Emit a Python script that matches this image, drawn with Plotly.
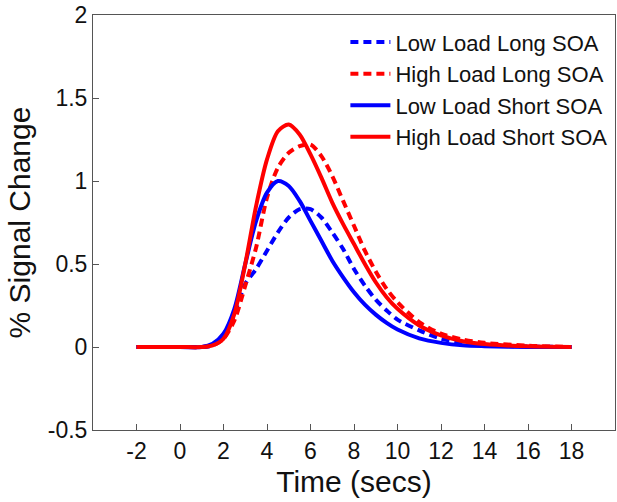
import plotly.graph_objects as go

time_s = [-2, 0, 1, 1.5, 2, 2.5, 3, 3.5, 4, 4.5, 5, 5.5, 6, 6.5, 7, 7.5, 8, 8.5, 9, 9.5, 10, 11, 12, 13, 14, 16, 18]

low_long = [0, 0, 0, 0.01, 0.06, 0.2, 0.38, 0.47, 0.58, 0.69, 0.78, 0.83, 0.83, 0.78, 0.69, 0.59, 0.47, 0.37, 0.285, 0.22, 0.165, 0.1, 0.05, 0.025, 0.012, 0.003, 0]
high_long = [0, 0, 0, 0.01, 0.05, 0.16, 0.37, 0.6, 0.9, 1.08, 1.17, 1.21, 1.22, 1.15, 1.03, 0.88, 0.73, 0.58, 0.455, 0.35, 0.27, 0.15, 0.08, 0.045, 0.025, 0.008, 0]
low_short = [0, 0, 0, 0.02, 0.08, 0.23, 0.5, 0.76, 0.93, 1.0, 0.97, 0.88, 0.76, 0.64, 0.52, 0.42, 0.33, 0.255, 0.195, 0.145, 0.105, 0.052, 0.025, 0.01, 0.005, 0, 0]
high_short = [0, 0, 0, 0.01, 0.05, 0.2, 0.5, 0.85, 1.13, 1.3, 1.34, 1.28, 1.16, 1.02, 0.87, 0.74, 0.62, 0.5, 0.39, 0.3, 0.23, 0.13, 0.07, 0.035, 0.018, 0.004, 0]

series_names = ["Low Load Long SOA", "High Load Long SOA", "Low Load Short SOA", "High Load Short SOA"]
series_vals = [low_long, high_long, low_short, high_short]
series_colors = ["#0000ff", "#ff0000", "#0000ff", "#ff0000"]
series_dash = ["8px,5px", "8px,5px", "solid", "solid"]

x_ticks = [-2, 0, 2, 4, 6, 8, 10, 12, 14, 16, 18]
y_ticks = [-0.5, 0, 0.5, 1, 1.5, 2]
y_tick_text = ["-0.5", "0", "0.5", "1", "1.5", "2"]
x_tick_text = ["-2", "0", "2", "4", "6", "8", "10", "12", "14", "16", "18"]

FONT = "Liberation Sans, Arial, sans-serif"

fig = go.Figure()
for name, vals, col, dash in zip(series_names, series_vals, series_colors, series_dash):
    fig.add_trace(go.Scatter(x=time_s, y=vals, mode="lines", name=name,
                             line=dict(color=col, width=4, dash=dash, shape="spline", smoothing=0.8)))

axis_common = dict(showline=True, linecolor="#555555", linewidth=1, mirror=True,
                   ticks="inside", ticklen=6, tickcolor="#555555", showgrid=False, zeroline=False,
                   tickfont=dict(family=FONT, size=23, color="#111111"))

fig.update_xaxes(range=[-4, 20], tickvals=x_ticks, ticktext=x_tick_text,
                 title=dict(text="Time (secs)", font=dict(family=FONT, size=30, color="#111111"), standoff=8),
                 **axis_common)
fig.update_yaxes(range=[-0.5, 2], tickvals=y_ticks, ticktext=y_tick_text,
                 title=dict(text="% Signal Change", font=dict(family=FONT, size=30, color="#111111"), standoff=8),
                 **axis_common)

fig.update_layout(
    width=617, height=502,
    margin=dict(l=93, r=2, t=15, b=72, autoexpand=False),
    plot_bgcolor="white", paper_bgcolor="white",
    showlegend=True,
    legend=dict(x=0.995, y=0.985, xanchor="right", yanchor="top", bgcolor="rgba(0,0,0,0)",
                font=dict(family=FONT, size=22, color="#111111"),
                tracegroupgap=0, itemwidth=40),
)

fig.write_html("out.html")
